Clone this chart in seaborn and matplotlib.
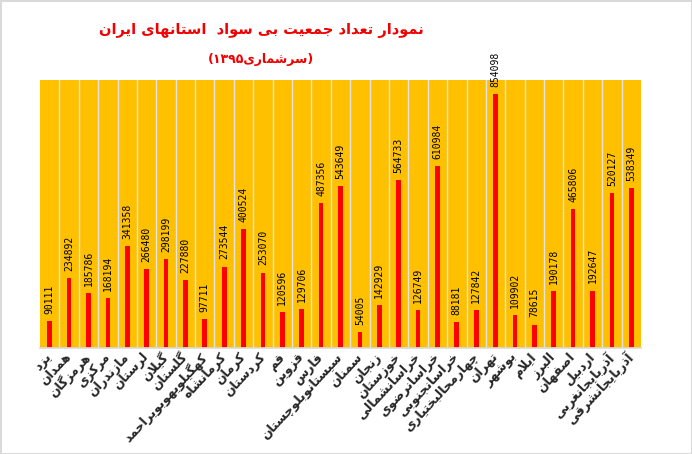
import matplotlib
matplotlib.use("Agg")
import matplotlib.pyplot as plt
import seaborn as sns
import pandas as pd
import numpy as np

provinces = ["یزد", "همدان", "هرمزگان", "مرکزی", "مازندران", "لرستان", "گیلان", "گلستان",
             "کهگیلویهوبویراحمد", "کرمانشاه", "کرمان", "کردستان", "قم", "قزوین", "فارس",
             "سیستانوبلوچستان", "سمنان", "زنجان", "خوزستان", "خراسانشمالی", "خراسانرضوی",
             "خراسانجنوبی", "چهارمحالبختیاری", "تهران", "بوشهر", "ایلام", "البرز", "اصفهان",
             "اردبیل", "آذربایجانغربی", "آذربایجانشرقی"]
illiterate = [90111, 234892, 185786, 168194, 341358, 266480, 298199, 227880, 97711, 273544,
              400524, 253070, 120596, 129706, 487356, 543649, 54005, 142929, 564733, 126749,
              610984, 88181, 127842, 854098, 109902, 78615, 190178, 465806, 192647, 520127, 538349]
title_line1 = "نمودار تعداد جمعیت بی سواد  استانهای ایران"
title_line2 = "(سرشماری۱۳۹۵)"

# --- minimal Persian shaping + RTL ordering for display ---
FORMS = {
    'ا': (0xFE8D, 0xFE8E, None, None), 'آ': (0xFE81, 0xFE82, None, None),
    'ب': (0xFE8F, 0xFE90, 0xFE91, 0xFE92), 'پ': (0xFB56, 0xFB57, 0xFB58, 0xFB59),
    'ت': (0xFE95, 0xFE96, 0xFE97, 0xFE98), 'ث': (0xFE99, 0xFE9A, 0xFE9B, 0xFE9C),
    'ج': (0xFE9D, 0xFE9E, 0xFE9F, 0xFEA0), 'چ': (0xFB7A, 0xFB7B, 0xFB7C, 0xFB7D),
    'ح': (0xFEA1, 0xFEA2, 0xFEA3, 0xFEA4), 'خ': (0xFEA5, 0xFEA6, 0xFEA7, 0xFEA8),
    'د': (0xFEA9, 0xFEAA, None, None), 'ذ': (0xFEAB, 0xFEAC, None, None),
    'ر': (0xFEAD, 0xFEAE, None, None), 'ز': (0xFEAF, 0xFEB0, None, None),
    'ژ': (0xFB8A, 0xFB8B, None, None),
    'س': (0xFEB1, 0xFEB2, 0xFEB3, 0xFEB4), 'ش': (0xFEB5, 0xFEB6, 0xFEB7, 0xFEB8),
    'ص': (0xFEB9, 0xFEBA, 0xFEBB, 0xFEBC), 'ض': (0xFEBD, 0xFEBE, 0xFEBF, 0xFEC0),
    'ط': (0xFEC1, 0xFEC2, 0xFEC3, 0xFEC4), 'ظ': (0xFEC5, 0xFEC6, 0xFEC7, 0xFEC8),
    'ع': (0xFEC9, 0xFECA, 0xFECB, 0xFECC), 'غ': (0xFECD, 0xFECE, 0xFECF, 0xFED0),
    'ف': (0xFED1, 0xFED2, 0xFED3, 0xFED4), 'ق': (0xFED5, 0xFED6, 0xFED7, 0xFED8),
    'ک': (0xFB8E, 0xFB8F, 0xFB90, 0xFB91), 'گ': (0xFB92, 0xFB93, 0xFB94, 0xFB95),
    'ل': (0xFEDD, 0xFEDE, 0xFEDF, 0xFEE0), 'م': (0xFEE1, 0xFEE2, 0xFEE3, 0xFEE4),
    'ن': (0xFEE5, 0xFEE6, 0xFEE7, 0xFEE8), 'و': (0xFEED, 0xFEEE, None, None),
    'ه': (0xFEE9, 0xFEEA, 0xFEEB, 0xFEEC), 'ی': (0xFBFC, 0xFBFD, 0xFBFE, 0xFBFF),
}
LAM_ALEF = {'ا': (0xFEFB, 0xFEFC), 'آ': (0xFEF5, 0xFEF6)}


def dual(c):
    return c in FORMS and FORMS[c][2] is not None


def shape(text):
    out = []
    i = 0
    n = len(text)
    while i < n:
        c = text[i]
        if c not in FORMS:
            out.append(c)
            i += 1
            continue
        prev = text[i - 1] if i > 0 else ''
        pc = dual(prev)
        if c == 'ل' and i + 1 < n and text[i + 1] in LAM_ALEF:
            iso, fin = LAM_ALEF[text[i + 1]]
            out.append(chr(fin if pc else iso))
            i += 2
            continue
        nxt = text[i + 1] if i + 1 < n else ''
        nc = dual(c) and nxt in FORMS
        f = FORMS[c]
        if pc and nc:
            g = f[3]
        elif pc:
            g = f[1]
        elif nc:
            g = f[2]
        else:
            g = f[0]
        out.append(chr(g))
        i += 1
    return out


def rtl(text):
    chars = shape(text)[::-1]
    mirror = {'(': ')', ')': '('}
    chars = [mirror.get(c, c) for c in chars]
    res = []
    run = []
    for c in chars:
        if c.isdigit():
            run.append(c)
        else:
            if run:
                res.extend(run[::-1])
                run = []
            res.append(c)
    if run:
        res.extend(run[::-1])
    return ''.join(res)


sns.set_theme(style="white")
plt.rcParams['font.family'] = ['DejaVu Sans']

df = pd.DataFrame({"province": [rtl(p) for p in provinces], "value": illiterate})

fig = plt.figure(figsize=(6.92, 4.54), dpi=100)
fig.patch.set_facecolor("white")
fig.patch.set_edgecolor("#D9D9D9")
fig.patch.set_linewidth(2)
ax = fig.add_axes([40 / 692, 106 / 454, 601 / 692, 268 / 454])

sns.barplot(data=df, x="province", y="value", color="#FF0000", saturation=1, width=0.24,
            linewidth=0, ax=ax)
ax.set_facecolor("#FFC000")
ax.set_ylim(0, 900000)
ax.set_xlim(-0.5, len(provinces) - 0.5)
ax.set_yticks([])
ax.set_xlabel("")
ax.set_ylabel("")
ax.set_xticks(np.arange(0.5, len(provinces) - 1, 1.0), minor=True)
ax.grid(True, which="minor", axis="x", color="#E3E3E3", linewidth=1)
ax.tick_params(axis="x", which="both", length=0, pad=5)
for lab in ax.get_xticklabels():
    lab.set_rotation(47)
    lab.set_ha("right")
    lab.set_va("center")
    lab.set_rotation_mode("anchor")
    lab.set_fontsize(9)
    lab.set_fontweight("bold")
for s in ["top", "right", "left"]:
    ax.spines[s].set_visible(False)
ax.spines["bottom"].set_color("#D9D9D9")

for i, v in enumerate(illiterate):
    ax.text(i, v + 24000, str(v), rotation=90, ha="center", va="bottom",
            fontsize=7, family="DejaVu Sans Mono", color="black")

fig.text(261 / 692, 1 - 30 / 454, rtl(title_line1), ha="center", va="center",
         fontsize=10.5, fontweight="bold", color="#F00000")
fig.text(261 / 692, 1 - 60 / 454, rtl(title_line2), ha="center", va="center",
         fontsize=9, fontweight="bold", color="#F00000")

fig.savefig("out.png", dpi=100)
